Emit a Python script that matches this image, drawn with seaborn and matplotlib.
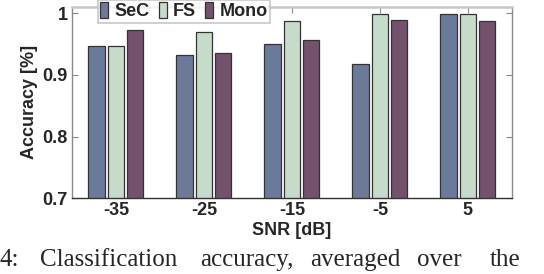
import matplotlib
matplotlib.use("Agg")
import matplotlib.pyplot as plt
import numpy as np
import pandas as pd
import seaborn as sns

# values
snr = ["-35", "-25", "-15", "-5", "5"]
sec = [0.947, 0.932, 0.950, 0.917, 0.999]
fs = [0.947, 0.970, 0.988, 0.999, 0.999]
mono = [0.973, 0.936, 0.956, 0.990, 0.987]
methods = ["SeC", "FS", "Mono"]
colors = ["#6577a0", "#c3dfc8", "#7a4c70"]

caption_words = ["4:", "Classification", "accuracy,", "averaged", "over", "the"]
caption_x = [0, 40, 200, 310, 417, 490]  # left edge of each word in pixels

df = pd.DataFrame({
    "SNR": snr * 3,
    "Accuracy": sec + fs + mono,
    "Method": np.repeat(methods, len(snr)),
})

sns.set_style("white")
plt.rcParams["font.family"] = ["Liberation Sans", "DejaVu Sans"]
plt.rcParams["font.weight"] = "bold"

fig = plt.figure(figsize=(5.44, 2.74), dpi=100)
ax = fig.add_axes([0.132, 0.277, 0.809, 0.699])

sns.barplot(data=df, x="SNR", y="Accuracy", hue="Method", order=snr,
            hue_order=methods, palette=colors, width=0.66, gap=0.15,
            edgecolor="#333333", linewidth=0.9, errorbar=None, ax=ax)

ax.set_ylim(0.7, 1.011)
ax.set_xlim(-0.5, 4.5)
ax.set_yticks([0.7, 0.8, 0.9, 1.0])
ax.set_yticklabels(["0.7", "0.8", "0.9", "1"], fontweight="bold")
ax.set_xticklabels(snr, fontweight="bold")
ax.tick_params(axis="both", labelsize=13, direction="in", length=4,
               color="#888888", top=True, right=True, bottom=True, left=True, pad=3)
ax.set_xlabel("SNR [dB]", fontsize=13, fontweight="bold", labelpad=2)
ax.set_ylabel("Accuracy [%]", fontsize=13, fontweight="bold", labelpad=3)

for side in ["left", "right"]:
    ax.spines[side].set_color("#8a8a8a")
    ax.spines[side].set_linewidth(1.0)
ax.spines["bottom"].set_color("#333333")
ax.spines["bottom"].set_linewidth(1.0)
ax.spines["top"].set_color("#c8c8c8")
ax.spines["top"].set_linewidth(1.8)

leg = ax.legend(loc="upper center", bbox_to_anchor=(0.2545, 1.034), ncol=3,
                frameon=True, fancybox=False, edgecolor="#bbbbbb",
                prop={"weight": "bold", "size": 13}, handlelength=0.45,
                handleheight=1.0, handletextpad=0.35, columnspacing=0.5,
                borderpad=0.12, borderaxespad=0)
leg.get_frame().set_linewidth(1.2)

for word, x in zip(caption_words, caption_x):
    fig.text(x / 544, 3 / 274, word, family="Liberation Serif", fontsize=18,
             fontweight="normal", ha="left", va="bottom")

fig.savefig("out.png", dpi=100)
